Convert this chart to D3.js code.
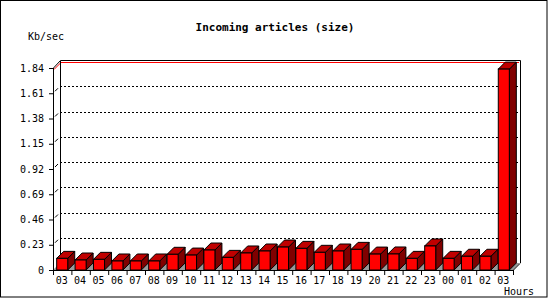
<!DOCTYPE html>
<html>
<head>
<meta charset="utf-8">
<title>Incoming articles (size)</title>
<script src="https://d3js.org/d3.v7.min.js"></script>
<style>
  body { margin: 0; background: #fff; }
  svg text { font-family: 'DejaVu Sans Mono', monospace; font-size: 10px; fill: #000; }
  .titre { font-weight: bold; font-size: 11px; }
  .grid { stroke: #000; stroke-dasharray: 2,2; }
</style>
</head>
<body>
<svg id="chart" width="550" height="300"></svg>
<script>
const hours = ['03','04','05','06','07','08','09','10','11','12','13','14','15','16',
               '17','18','19','20','21','22','23','00','01','02','03'];
const kbps = [0.106, 0.091, 0.097, 0.082, 0.082, 0.082, 0.143, 0.136, 0.182, 0.115,
              0.155, 0.173, 0.209, 0.197, 0.161, 0.173, 0.188, 0.145, 0.146, 0.106,
              0.219, 0.106, 0.125, 0.125, 1.83];
const yTicks = [0, 0.23, 0.46, 0.69, 0.92, 1.15, 1.38, 1.61, 1.84];
const yTickLabels = ['0','0.23','0.46','0.69','0.92','1.15','1.38','1.61','1.84'];

const svg = d3.select('#chart');
const gauche = 53, droite = 513, bas = 270, haut = 68;
const dep = 7;   // profondeur 3D

const x = d3.scaleBand().domain(d3.range(hours.length)).range([gauche, droite]).paddingInner(0.4).paddingOuter(0.2);
const xEdge = d3.scaleLinear().domain([0, hours.length]).range([gauche, droite]);
const y = d3.scaleLinear().domain([0, 1.84]).range([bas, haut]);

// cadre exterieur
svg.append('rect').attr('x', 0.5).attr('y', 0.5).attr('width', 546.5).attr('height', 296.5)
  .attr('fill', '#fff').attr('stroke', '#000');

svg.append('text').attr('class', 'titre').attr('x', 275).attr('y', 31)
  .attr('text-anchor', 'middle').text('Incoming articles (size)');
svg.append('text').attr('x', 28).attr('y', 40).text('Kb/sec');
svg.append('text').attr('x', 504).attr('y', 295).text('Hours');

// sol gris
svg.append('path')
  .attr('d', `M${gauche},${bas}L${droite},${bas}L${droite + dep},${bas - dep}L${gauche + dep},${bas - dep}Z`)
  .attr('fill', '#999').attr('stroke', 'none');

// grille du fond
svg.selectAll('.grid')
  .data(yTicks.slice(1, -1))
  .enter().append('line').classed('grid', true)
  .attr('x1', gauche + dep).attr('x2', droite + dep)
  .attr('y1', d => Math.round(y(d) - dep) + 0.5).attr('y2', d => Math.round(y(d) - dep) + 0.5);

svg.selectAll('.diag')
  .data(yTicks.slice(1, -1))
  .enter().append('line').classed('diag', true)
  .attr('x1', gauche + 2).attr('x2', gauche + 5)
  .attr('y1', d => y(d) - 2).attr('y2', d => y(d) - 5)
  .attr('stroke', '#000');

// ligne rouge du maximum
svg.append('path')
  .attr('d', `M${gauche + 1},${haut + 1.5}L${gauche + dep + 1},${haut - dep + 1.5}L${droite + dep - 1},${haut - dep + 1.5}`)
  .attr('fill', 'none').attr('stroke', '#f00');

// cadre du fond
svg.append('path')
  .attr('d', `M${gauche + 0.5},${bas}L${gauche + 0.5},${haut}L${gauche + dep + 0.5},${haut - dep - 0.5}L${droite + dep + 0.5},${haut - dep - 0.5}L${droite + dep + 0.5},${bas - dep}`)
  .attr('fill', 'none').attr('stroke', '#000');
svg.append('line').attr('x1', gauche + dep + 0.5).attr('x2', gauche + dep + 0.5)
  .attr('y1', haut - dep).attr('y2', bas - dep).attr('stroke', '#000');
svg.append('path')
  .attr('d', `M${gauche},${bas + 0.5}L${droite},${bas + 0.5}L${droite + dep},${bas - dep + 0.5}`)
  .attr('fill', 'none').attr('stroke', '#000');

// barres 3D
const bars = svg.selectAll('.barre').data(kbps).enter().append('g').classed('barre', true);
const w = x.bandwidth();
bars.append('path')  // cote
  .attr('d', (d, i) => {
    const x1 = x(i) + w, yt = y(d);
    return `M${x1},${bas}L${x1},${yt}L${x1 + dep},${yt - dep}L${x1 + dep},${bas - dep}Z`;
  })
  .attr('fill', '#800000').attr('stroke', '#000');
bars.append('path')  // dessus
  .attr('d', (d, i) => {
    const x0 = x(i), yt = y(d);
    return `M${x0},${yt}L${x0 + dep},${yt - dep}L${x0 + w + dep},${yt - dep}L${x0 + w},${yt}Z`;
  })
  .attr('fill', '#c00000').attr('stroke', '#000');
bars.append('rect')  // face
  .attr('x', (d, i) => x(i)).attr('y', d => y(d))
  .attr('width', w).attr('height', d => bas - y(d))
  .attr('fill', '#f00').attr('stroke', '#000');

// axes
const yAxis = svg.append('g').attr('transform', `translate(${gauche},0)`)
  .call(d3.axisLeft(y).tickValues(yTicks).tickFormat((d, i) => yTickLabels[i]).tickSize(4).tickPadding(5));
yAxis.select('.domain').remove();

const xTicks = svg.append('g').attr('transform', `translate(0,${bas})`)
  .call(d3.axisBottom(xEdge).tickValues(d3.range(hours.length + 1)).tickFormat('').tickSize(5));
xTicks.select('.domain').remove();

const xLabels = svg.append('g').attr('transform', `translate(${-1},${bas})`)
  .call(d3.axisBottom(xEdge).tickValues(d3.range(hours.length).map(i => i + 0.5))
    .tickFormat((d, i) => hours[i]).tickSize(0).tickPadding(7));
xLabels.select('.domain').remove();

svg.selectAll('.tick text').style('font-family', "'DejaVu Sans Mono', monospace").style('font-size', '10px');
</script>
</body>
</html>
